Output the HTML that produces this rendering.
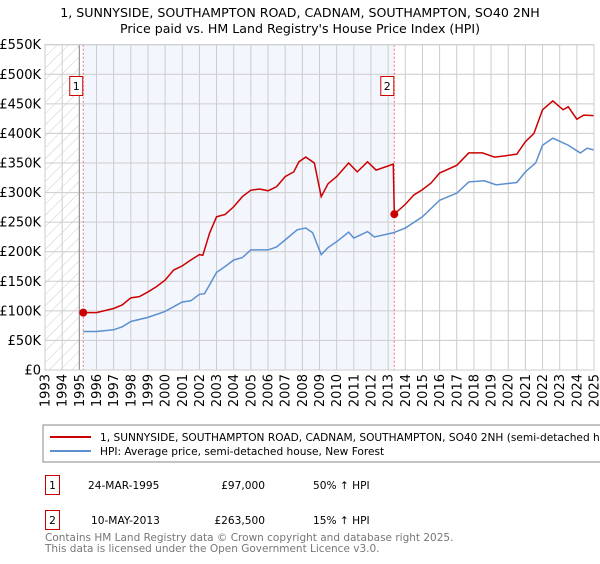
<!DOCTYPE html>
<html><head><meta charset="utf-8"><style>
body{margin:0;background:#fff;width:600px;height:560px;overflow:hidden;font-family:"DejaVu Sans","Liberation Sans",sans-serif;}
svg text{font-family:"DejaVu Sans","Liberation Sans",sans-serif;}
</style></head><body>
<svg id="chart" width="600" height="560">
<defs><pattern id="hatch" width="8" height="8" patternUnits="userSpaceOnUse" patternTransform="rotate(45)"><line x1="0" y1="0" x2="0" y2="8" stroke="#ccc" stroke-width="1"/></pattern></defs>
<text x="300" y="17" text-anchor="middle" font-size="12.6">1, SUNNYSIDE, SOUTHAMPTON ROAD, CADNAM, SOUTHAMPTON, SO40 2NH</text>
<text x="300" y="33" text-anchor="middle" font-size="12.6">Price paid vs. HM Land Registry's House Price Index (HPI)</text>
<g id="plot"></g>
<rect x="43" y="425" width="570" height="37" fill="#fff" stroke="#888"/>
<line x1="50" y1="437" x2="91" y2="437" stroke="#cc0000" stroke-width="2"/>
<text x="100" y="441" font-size="10.6">1, SUNNYSIDE, SOUTHAMPTON ROAD, CADNAM, SOUTHAMPTON, SO40 2NH (semi-detached house)</text>
<line x1="50" y1="451" x2="91" y2="451" stroke="#5b8fd0" stroke-width="2"/>
<text x="100" y="455" font-size="10.6">HPI: Average price, semi-detached house, New Forest</text>
<g>
<rect x="45.5" y="475.5" width="14" height="19" fill="#fff" stroke="#cc0000"/>
<text x="52.5" y="489" text-anchor="middle" font-size="10.6">1</text>
<text x="88" y="489" font-size="10.6">24-MAR-1995</text>
<text x="265" y="489" text-anchor="end" font-size="10.6">£97,000</text>
<text x="313" y="489" font-size="10.6">50% ↑ HPI</text></g>
<g>
<rect x="45.5" y="510.5" width="14" height="19" fill="#fff" stroke="#cc0000"/>
<text x="52.5" y="524" text-anchor="middle" font-size="10.6">2</text>
<text x="91" y="524" font-size="10.6">10-MAY-2013</text>
<text x="265" y="524" text-anchor="end" font-size="10.6">£263,500</text>
<text x="313" y="524" font-size="10.6">15% ↑ HPI</text></g>
<text x="45" y="541" font-size="10.5" fill="#777">Contains HM Land Registry data © Crown copyright and database right 2025.</text>
<text x="45" y="552" font-size="10.5" fill="#777">This data is licensed under the Open Government Licence v3.0.</text>
</svg>
<script>
const yTicks=[0,50,100,150,200,250,300,350,400,450,500,550];
const yTickLabels=["£0","£50K","£100K","£150K","£200K","£250K","£300K","£350K","£400K","£450K","£500K","£550K"];
const years=[1993,1994,1995,1996,1997,1998,1999,2000,2001,2002,2003,2004,2005,2006,2007,2008,2009,2010,2011,2012,2013,2014,2015,2016,2017,2018,2019,2020,2021,2022,2023,2024,2025];
const saleDates=[1995.23,2013.36];
const salePrices=[97,263.5];
const saleLabels=["1","2"];
const redT=[1995.23,1996,1997,1997.5,1998,1998.5,1999,1999.5,2000,2000.5,2001,2001.5,2002,2002.2,2002.6,2003,2003.5,2004,2004.5,2005,2005.5,2006,2006.5,2007,2007.5,2007.8,2008.2,2008.7,2009.1,2009.5,2010,2010.7,2011.2,2011.8,2012.3,2012.8,2013.3,2013.36,2014,2014.5,2015,2015.5,2016,2017,2017.7,2018.5,2019.2,2019.8,2020.5,2021,2021.5,2022,2022.6,2023.2,2023.5,2024,2024.4,2025];
const redV=[97,97,104,110,122,124,132,141,152,169,176,186,195,194,232,259,263,276,293,304,306,303,310,327,335,352,360,350,293,315,327,350,335,352,338,343,348,263.5,280,296,305,316,333,346,367,367,360,362,365,386,400,440,455,440,445,424,431,430];
const blueT=[1995.23,1996,1997,1997.5,1998,1999,2000,2001,2001.5,2002,2002.3,2003,2003.5,2004,2004.5,2005,2006,2006.5,2007,2007.7,2008.2,2008.6,2009.1,2009.5,2010,2010.7,2011,2011.8,2012.2,2013.3,2014,2015,2016,2017,2017.7,2018.6,2019.3,2020.5,2021,2021.6,2022,2022.6,2023.5,2024.2,2024.6,2025];
const blueV=[65,65,68,73,82,89,99,115,117,128,129,165,175,186,190,203,203,208,220,237,240,232,195,207,217,233,223,234,225,232,240,259,287,299,318,320,313,317,335,350,380,392,380,367,375,372];
const L=45,R=594,T=44.7,B=370,Y0=1993,Y1=2025,VMAX=550;
const xs=t=>L+(t-Y0)/(Y1-Y0)*(R-L);
const ys=v=>B-v/VMAX*(B-T);
const NS="http://www.w3.org/2000/svg";
const g=document.getElementById('plot');
function mk(tag,attrs,parent){const e=document.createElementNS(NS,tag);for(const k in attrs)e.setAttribute(k,attrs[k]);(parent||g).appendChild(e);return e;}
let e;
e=mk('rect',{x:xs(saleDates[0]),y:T,width:xs(saleDates[1])-xs(saleDates[0]),height:B-T,fill:'#eef3fc',opacity:0.7});


e=mk('rect',{x:L,y:T,width:xs(1995)-L,height:B-T,fill:'url(#hatch)'});


yTicks.forEach((v,i)=>{
 e=mk('line',{x1:L,x2:R,y1:ys(v),y2:ys(v),stroke:'#ccc','stroke-width':1});
 
 
 e=mk('text',{x:L-4,y:ys(v)+4.5,'text-anchor':'end','font-size':13});
 e.textContent=yTickLabels[i];
 
 
});
years.forEach(yr=>{
 e=mk('line',{x1:xs(yr),x2:xs(yr),y1:T,y2:B,stroke:'#ccc','stroke-width':1});
 
 
 e=mk('text',{x:0,y:0,'text-anchor':'end','font-size':13,transform:`translate(${xs(yr)+4.5},374) rotate(-90)`});
 e.textContent=yr;
 
 
});
e=mk('line',{x1:xs(1995),x2:xs(1995),y1:T,y2:B,stroke:'#888','stroke-width':1});


saleDates.forEach((d,i)=>{
 e=mk('line',{x1:xs(d),x2:xs(d),y1:T,y2:B,stroke:'#f07070','stroke-width':1,'stroke-dasharray':'2,2'});
 
 
});
e=mk('polyline',{points:blueT.map((t,i)=>xs(t)+','+ys(blueV[i])).join(' '),fill:'none',stroke:'#5b8fd0','stroke-width':1.5});


e=mk('polyline',{points:redT.map((t,i)=>xs(t)+','+ys(redV[i])).join(' '),fill:'none',stroke:'#cc0000','stroke-width':1.5});


saleDates.forEach((d,i)=>{
 e=mk('circle',{cx:xs(d),cy:ys(salePrices[i]),r:4,fill:'#cc0000'});
 
 
 e=mk('rect',{x:xs(d)-13.5,y:76.5,width:13,height:19,fill:'#fff',stroke:'#cc0000'});
 
 
 e=mk('text',{x:xs(d)-7,y:90,'text-anchor':'middle','font-size':11});
 e.textContent=saleLabels[i];
 
 
});
e=mk('rect',{x:L,y:T,width:R-L,height:B-T,fill:'none',stroke:'#ccc'});


</script>
</body></html>
